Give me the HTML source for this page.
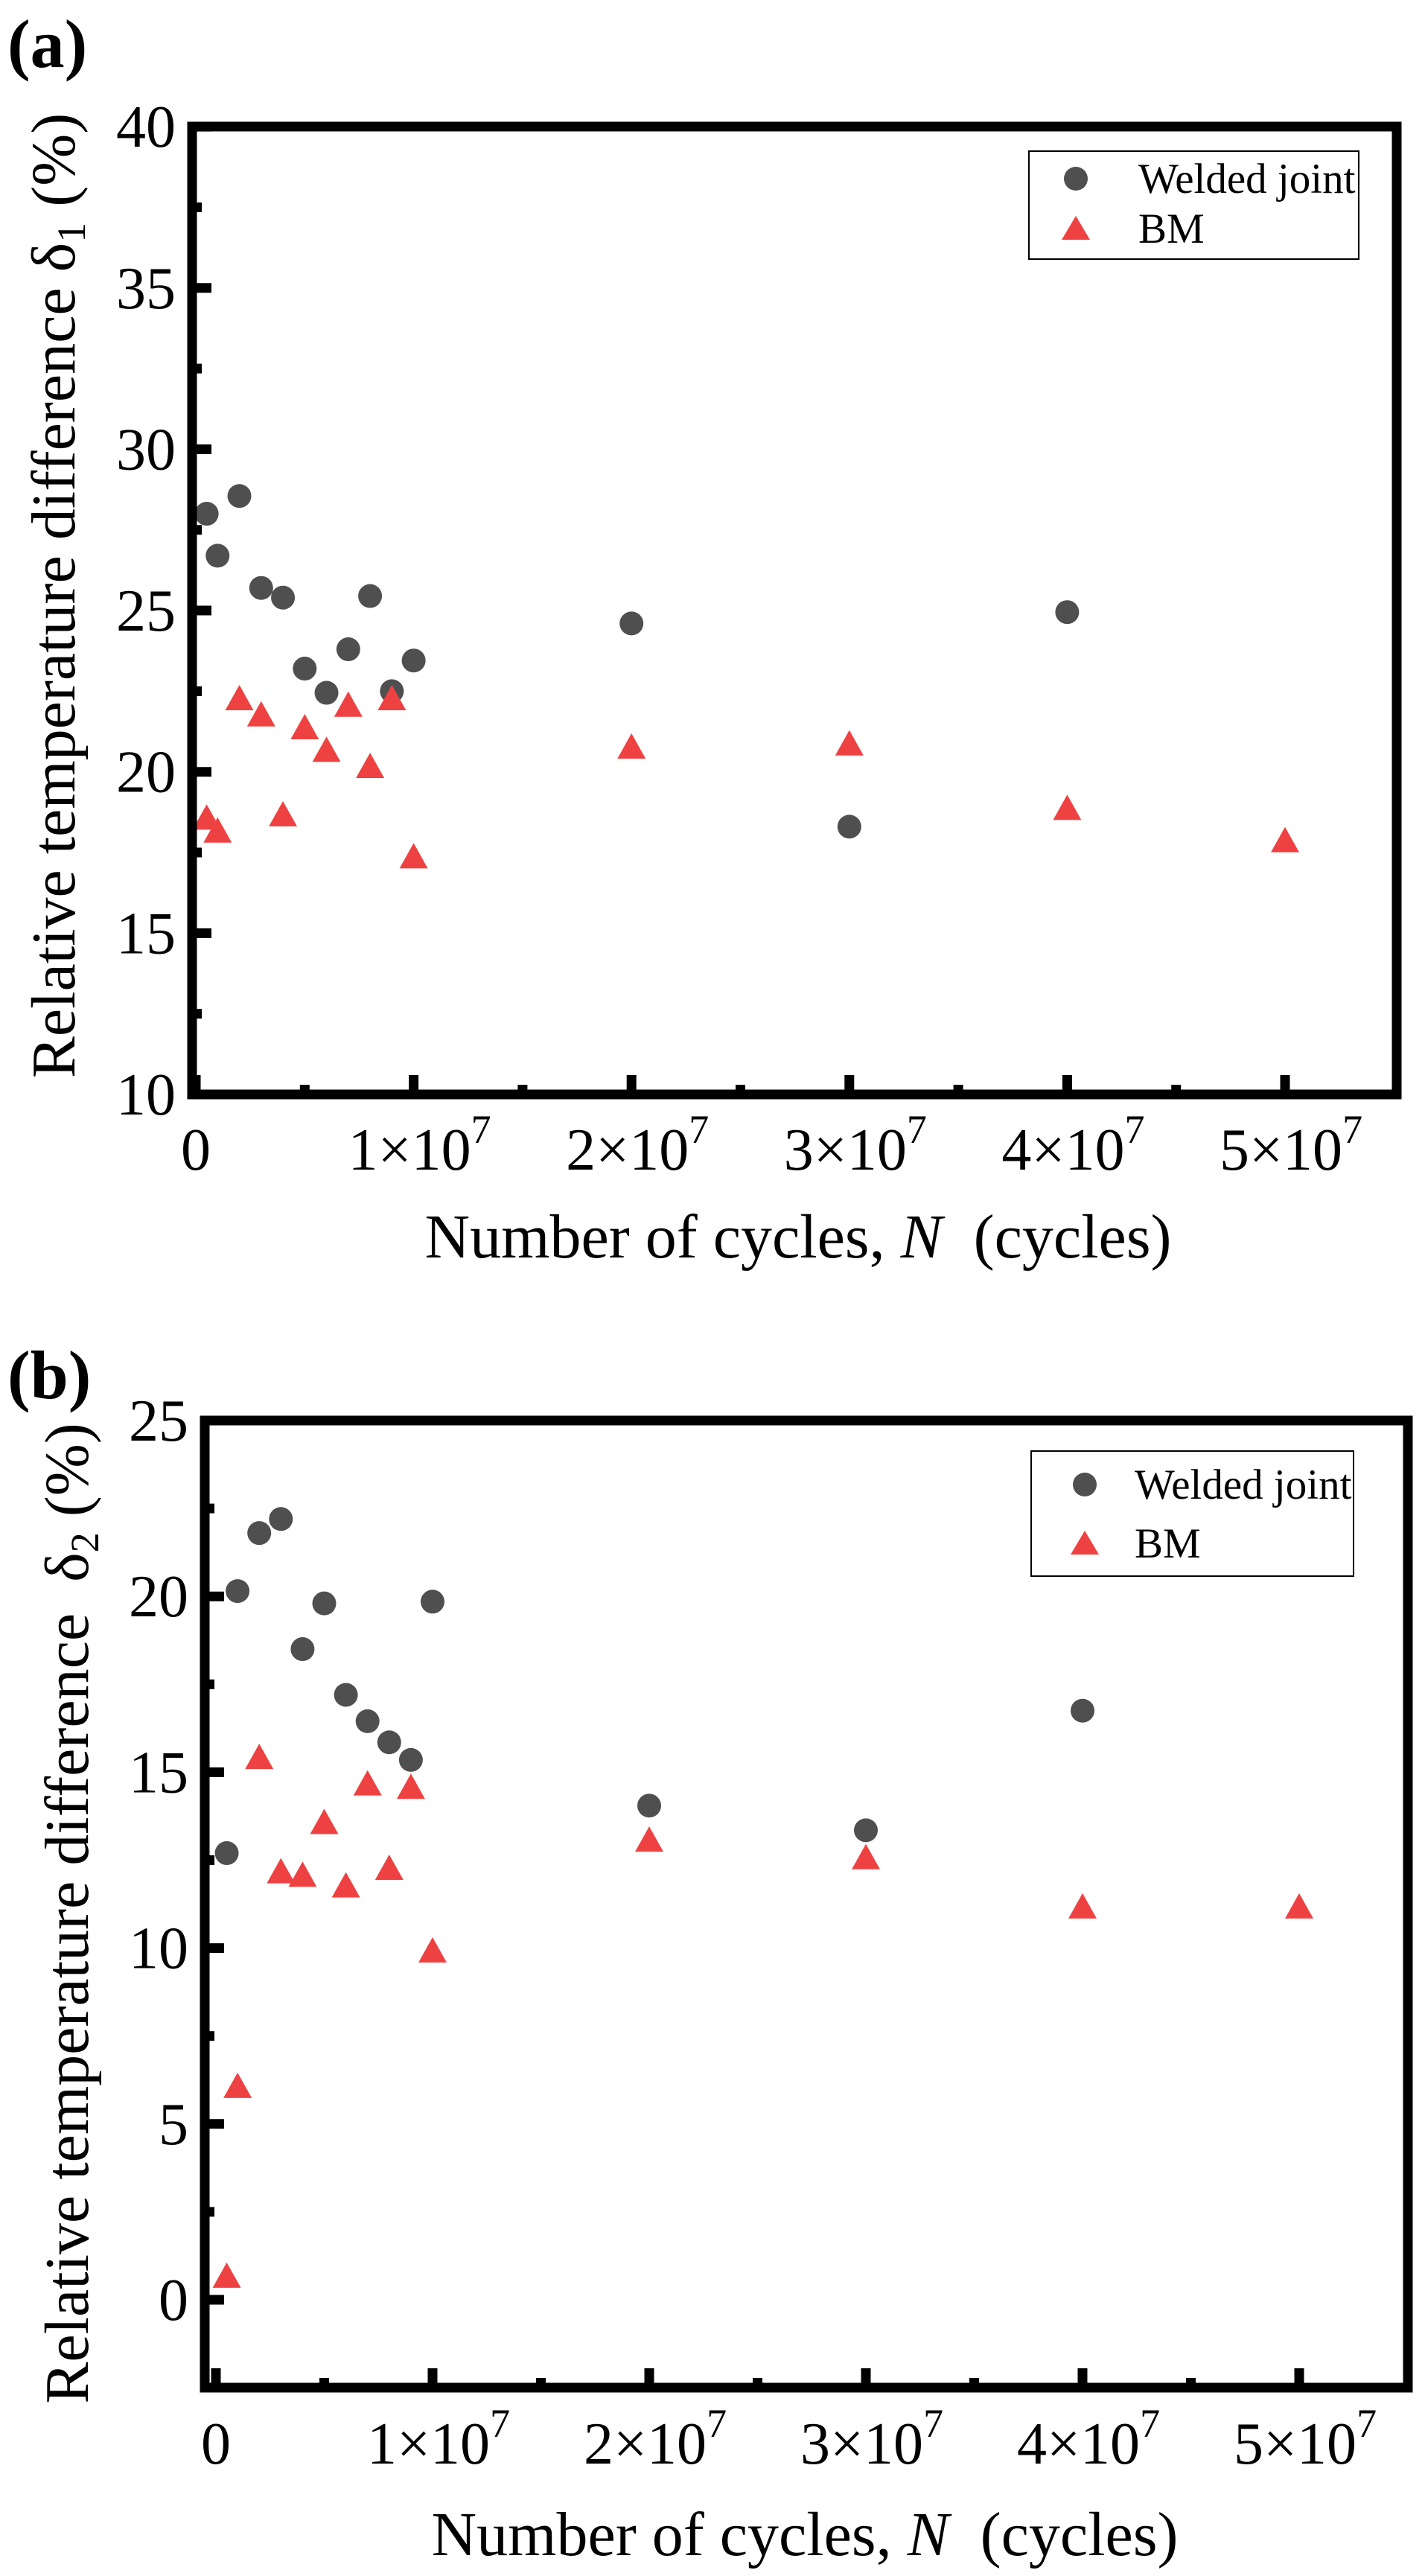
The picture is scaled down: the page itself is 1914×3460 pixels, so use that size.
<!DOCTYPE html>
<html><head><meta charset="utf-8"><style>
html,body{margin:0;padding:0;background:#fff;}
svg, svg text{font-family:"Liberation Serif","Times New Roman",Times,serif;}
</style></head><body>
<svg id="fig" width="1914" height="3455" viewBox="0 0 1914 3455" xmlns="http://www.w3.org/2000/svg" font-family="Liberation Serif, Times New Roman, serif"></svg>
<script>
// ---- data (x in cycles) ----
const xCyclesWJa = [5e5,1e6,2e6,3e6,4e6,5e6,6e6,7e6,8e6,9e6,1e7,2e7,3e7,4e7];
const delta1WJ = [28.0,26.7,28.55,25.7,25.4,23.2,22.45,23.8,25.45,22.5,23.45,24.6,18.3,24.95];
const xCyclesBMa = [5e5,1e6,2e6,3e6,4e6,5e6,6e6,7e6,8e6,9e6,1e7,2e7,3e7,4e7,5e7];
const delta1BM = [18.6,18.2,22.3,21.8,18.7,21.4,20.7,22.1,20.2,22.3,17.4,20.8,20.9,18.9,17.9];
const xCyclesWJb = [5e5,1e6,2e6,3e6,4e6,5e6,6e6,7e6,8e6,9e6,1e7,2e7,3e7,4e7];
const delta2WJ = [12.7,20.15,21.8,22.2,18.5,19.8,17.2,16.45,15.85,15.35,19.85,14.05,13.35,16.75];
const xCyclesBMb = [5e5,1e6,2e6,3e6,4e6,5e6,6e6,7e6,8e6,9e6,1e7,2e7,3e7,4e7,5e7];
const delta2BM = [0.7,6.1,15.45,12.2,12.1,13.6,11.8,14.7,12.3,14.6,9.95,13.1,12.6,11.2,11.2];
const yTicksA = [10,15,20,25,30,35,40];
const yTicksB = [0,5,10,15,20,25];
const xTickVals = [0,1e7,2e7,3e7,4e7,5e7];
const xTickMant = ["0","1","2","3","4","5"];

const NS="http://www.w3.org/2000/svg";
const svg=document.getElementById('fig');
const FF='Liberation Serif, Times New Roman, serif';
function mk(tag,attrs,parent){const e=document.createElementNS(NS,tag);for(const k in attrs)e.setAttribute(k,attrs[k]);if(tag==='text')e.setAttribute('font-family',FF);(parent||svg).appendChild(e);return e;}

function panel(cfg){
  const g=mk('g',{});
  
  
  const X=v=>cfg.x0+v*cfg.xs;
  const Y=v=>cfg.y0-(v-cfg.ymin0)*cfg.ys;
  const L=cfg.L,R=cfg.R,T=cfg.T,B=cfg.B;
  const pl=mk('text',{x:cfg.labX,y:cfg.labY,'font-size':92,'font-weight':'bold'},g);pl.textContent=cfg.letter;
  
  
  cfg.wjx.forEach((xv,i)=>{const c=mk('circle',{cx:X(xv),cy:Y(cfg.wjy[i]),r:16,fill:'#4f4f4f'},g);
    
    });
  cfg.bmx.forEach((xv,i)=>{const cx=X(xv),cy=Y(cfg.bmy[i]);
    const p=mk('polygon',{points:`${cx-19},${cy+17} ${cx+19},${cy+17} ${cx},${cy-17}`,fill:'#ee4242'},g);
    
    });
  const tk=mk('g',{stroke:'#000','stroke-width':13},g);
  
  
  cfg.yt.forEach(v=>{const y=Y(v);mk('line',{x1:L,x2:L+26,y1:y,y2:y},tk);});
  for(let i=0;i<cfg.yt.length-1;i++){const y=Y((cfg.yt[i]+cfg.yt[i+1])/2);mk('line',{x1:L,x2:L+13,y1:y,y2:y},tk);}
  if(cfg.yt[0]-2.5>cfg.ymin){const y=Y(cfg.yt[0]-2.5);mk('line',{x1:L,x2:L+13,y1:y,y2:y},tk);}
  xTickVals.forEach(v=>{const x=X(v);mk('line',{x1:x,x2:x,y1:B,y2:B-26},tk);});
  for(let i=0;i<xTickVals.length;i++){const x=X(xTickVals[i]+5e6);if(x<R-10)mk('line',{x1:x,x2:x,y1:B,y2:B-13},tk);}
  const fr=mk('rect',{x:L,y:T,width:R-L,height:B-T,fill:'none',stroke:'#000','stroke-width':13},g);
  
  
  cfg.yt.forEach(v=>{const t=mk('text',{x:L-22,y:Y(v)+27,'font-size':80,'text-anchor':'end'},g);t.textContent=v;
    
    });
  xTickVals.forEach((v,i)=>{const t=mk('text',{x:X(v)+(i?8:0),y:cfg.xlabY,'font-size':80,'text-anchor':'middle'},g);
    
    
    if(i===0){t.textContent='0';}else{
      t.appendChild(document.createTextNode(xTickMant[i]+'×10'));
      const s=mk('tspan',{'font-size':54,dy:-36},t);s.textContent='7';}});
  const xt=mk('text',{x:cfg.xtX,y:cfg.xtY,'font-size':84,'text-anchor':'middle','xml:space':'preserve'},g);
  
  
  xt.appendChild(document.createTextNode('Number of cycles, '));
  const it=mk('tspan',{'font-style':'italic'},xt);it.textContent='N';
  xt.appendChild(document.createTextNode('\u00a0\u00a0(cycles)'));
  const yt=mk('text',{x:0,y:0,'font-size':84,'text-anchor':'middle',transform:`translate(${cfg.ytX},${cfg.ytY}) rotate(-90)`},g);
  
  
  yt.appendChild(document.createTextNode('Relative temperature difference '+cfg.gap+'δ'));
  const sb=mk('tspan',{'font-size':54,dy:14},yt);sb.textContent=cfg.sub;
  const rest=mk('tspan',{dy:-14},yt);rest.textContent=' (%)';
  const lg=mk('g',{},g);
  
  
  mk('rect',{x:cfg.lgL,y:cfg.lgT,width:cfg.lgR-cfg.lgL,height:cfg.lgB-cfg.lgT,fill:'#fff',stroke:'#000','stroke-width':2},lg);
  const e1=mk('g',{},lg);
  
  
  mk('circle',{cx:cfg.lgMx,cy:cfg.r1,r:16,fill:'#4f4f4f'},e1);
  const t1=mk('text',{x:cfg.lgTx,y:cfg.r1+19,'font-size':57},e1);t1.textContent='Welded joint';
  const e2=mk('g',{},lg);
  
  
  const m=cfg.lgMx,r2=cfg.r2;
  mk('polygon',{points:`${m-19},${r2+15} ${m+19},${r2+15} ${m},${r2-17}`,fill:'#ee4242'},e2);
  const t2=mk('text',{x:cfg.lgTx,y:r2+19,'font-size':57},e2);t2.textContent='BM';
}

panel({name:'panel-a',letter:'(a)',labX:10,labY:90,L:258,R:1876,T:170,B:1470,
  x0:263,xs:292.6/1e7,y0:1470,ymin0:10,ymin:10,ys:43.33,
  wjx:xCyclesWJa,wjy:delta1WJ,bmx:xCyclesBMa,bmy:delta1BM,yt:yTicksA,
  xlabY:1571,xtX:1072,xtY:1689,ytX:100,ytY:800,gap:'',sub:'1',
  lgL:1382,lgR:1825,lgT:203,lgB:348,lgMx:1445,lgTx:1529,r1:240,r2:307});
panel({name:'panel-b',letter:'(b)',labX:10,labY:1878,L:275,R:1891,T:1908,B:3207,
  x0:290,xs:291/1e7,y0:3089,ymin0:0,ymin:-2.5,ys:47.24,
  wjx:xCyclesWJb,wjy:delta2WJ,bmx:xCyclesBMb,bmy:delta2BM,yt:yTicksB,
  xlabY:3309,xtX:1081,xtY:3432,ytX:118,ytY:2570,gap:'\u00a0',sub:'2',
  lgL:1385,lgR:1818,lgT:1949,lgB:2117,lgMx:1457,lgTx:1524,r1:1994,r2:2073});
</script>
</body></html>
